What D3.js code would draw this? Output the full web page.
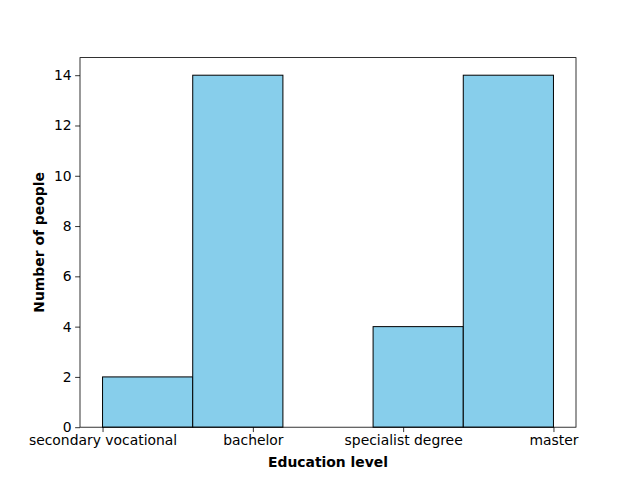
<!DOCTYPE html>
<html><head><meta charset="utf-8">
<script src="https://cdn.jsdelivr.net/npm/d3@7"></script>
<style>body{margin:0;background:#fff}svg{display:block}text{font-family:"DejaVu Sans",sans-serif}</style>
</head><body>
<script>
const categories = ["secondary vocational","bachelor","specialist degree","master"];
const counts = [2,14,4,14];
const nBins = 5;
const yTicks = [0,2,4,6,8,10,12,14];

const W=640,H=480;
const m={left:80,right:576,top:57.6,bottom:427.2};
const svg=d3.select("body").append("svg").attr("width",W).attr("height",H);

// raw data: category index per person
const raw=[];
counts.forEach((c,i)=>{for(let k=0;k<c;k++)raw.push(i);});
const lo=0,hi=categories.length-1;
const step=(hi-lo)/nBins;
const thresholds=d3.range(1,nBins).map(i=>lo+i*step);
const bins=d3.bin().domain([lo,hi]).thresholds(thresholds)(raw);

const pad=(hi-lo)*0.05;
const x=d3.scaleLinear().domain([lo-pad,hi+pad]).range([m.left,m.right]);
const ymax=d3.max(bins,b=>b.length)*1.05;
const y=d3.scaleLinear().domain([0,ymax]).range([m.bottom,m.top]);

svg.append("g").selectAll("rect").data(bins).join("rect")
 .attr("x",d=>x(d.x0)).attr("width",d=>x(d.x1)-x(d.x0))
 .attr("y",d=>y(d.length)).attr("height",d=>y(0)-y(d.length))
 .attr("fill","#87ceeb").attr("stroke","#000").attr("stroke-width",1)
 .style("display",d=>d.length?null:"none");

const fs=13.9;
const xAxis=d3.axisBottom(x).tickValues(d3.range(categories.length)).tickFormat(i=>categories[i]).tickSize(4.86).tickPadding(3.5);
const gx=svg.append("g").attr("transform",`translate(0,${m.bottom})`).call(xAxis);
const yAxis=d3.axisLeft(y).tickValues(yTicks).tickSize(4.86).tickPadding(3.5);
const gy=svg.append("g").attr("transform",`translate(${m.left},0)`).call(yAxis);
[gx,gy].forEach(g=>{g.select(".domain").remove();g.selectAll("text").attr("font-size",fs).attr("font-family","DejaVu Sans").attr("fill","#000");g.selectAll("line").attr("stroke","#000").attr("stroke-width",0.8);});

svg.append("rect").attr("x",m.left).attr("y",m.top).attr("width",m.right-m.left).attr("height",m.bottom-m.top)
 .attr("fill","none").attr("stroke","#000").attr("stroke-width",0.8);

svg.append("text").attr("x",(m.left+m.right)/2).attr("y",467).attr("text-anchor","middle")
 .attr("font-size",fs).attr("font-weight","bold").text("Education level");
svg.append("text").attr("transform",`translate(44,${(m.top+m.bottom)/2}) rotate(-90)`).attr("text-anchor","middle")
 .attr("font-size",fs).attr("font-weight","bold").text("Number of people");
</script>
</body></html>
